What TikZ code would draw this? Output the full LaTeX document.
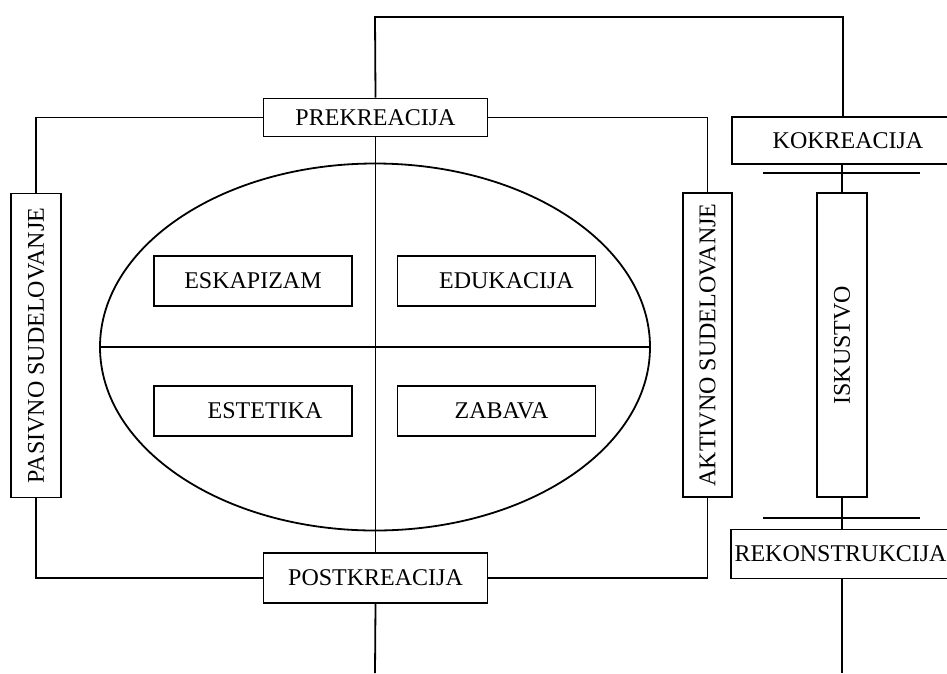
\documentclass[tikz,border=0pt]{standalone}
\usepackage{fontspec}
\setmainfont{Liberation Serif}
\usetikzlibrary{shapes.geometric}
\begin{document}
\begin{tikzpicture}[x=1pt,y=-1pt,line width=1.8pt,
  every node/.style={font=\fontsize{24}{28}\selectfont},
  box/.style={draw,rectangle,inner sep=0pt,minimum width=#1},
  box/.default=198pt,
  vbox/.style={draw,rectangle,inner sep=0pt,rotate=90,minimum width=304pt,minimum height=50pt}]
\useasboundingbox (0,0) rectangle (947,673);
% main boxes
\node[box=224pt,minimum height=38pt] (prek) at (375.5,117.5) {PREKREACIJA};
\node[box=224pt,minimum height=50pt] (post) at (375.5,578) {POSTKREACIJA};
\node[vbox] (pas) at (36,345.5) {PASIVNO SUDELOVANJE};
\node[vbox,minimum height=49pt] (akt) at (707.5,345) {AKTIVNO SUDELOVANJE};
% ellipse
\node[draw,ellipse,inner sep=0pt,minimum width=550pt,minimum height=367pt] (ell) at (375,347) {};
\node[box,minimum height=50pt] (esk) at (253,281) {ESKAPIZAM};
\node[box,minimum height=50pt] (edu) at (496.5,281) {\hspace*{20pt}EDUKACIJA};
\node[box,minimum height=50pt] (est) at (253,411) {\hspace*{24pt}ESTETIKA};
\node[box,minimum height=50pt] (zab) at (496.5,411) {\hspace*{10pt}ZABAVA};
% right column
\node[box=232pt,minimum height=47pt] (kok) at (848,140.5) {KOKREACIJA};
\node[vbox] (isk) at (842,345) {ISKUSTVO};
\node[box=219pt,minimum height=49pt] (rek) at (840.5,554) {REKONSTRUKCIJA};
% coordinates
\coordinate (tl) at (375,17);
\coordinate (tr) at (843,17);
\coordinate (bl) at (375,673);
\coordinate (br) at (842,673);
\coordinate (b1a) at (763,173);
\coordinate (b1b) at (920,173);
\coordinate (b2a) at (763,518);
\coordinate (b2b) at (920,518);
% connectors
\draw (prek.west) -| (pas.east);
\draw (pas.west) |- (post.west);
\draw (prek.east) -| (akt.east);
\draw (akt.west) |- (post.east);
\draw (prek.north) -- (tl) -- (tr) -- (tr |- kok.north);
\draw (prek.south) -- (post.north);
\draw (ell.west) -- (ell.east);
\draw (post.south) -- (bl);
\draw (isk.east |- kok.south) -- (isk.east);
\draw (isk.west) -- (isk.west |- rek.north);
\draw (rek.south -| br) -- (br);
\draw (b1a) -- (b1b);
\draw (b2a) -- (b2b);
\end{tikzpicture}
\end{document}
